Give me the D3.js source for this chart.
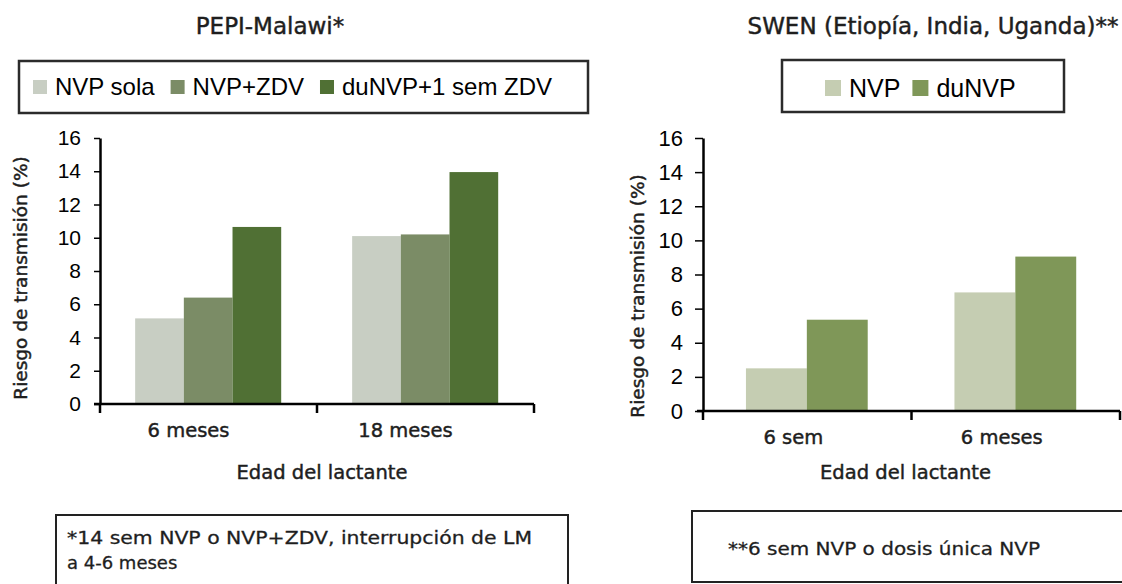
<!DOCTYPE html>
<html>
<head>
<meta charset="utf-8">
<script src="https://cdn.jsdelivr.net/npm/d3@7"></script>
<style>
  body { margin: 0; background: #fff; }
  svg { display: block; }
  .ytick text { font-family: "Liberation Sans", Arial, sans-serif; fill: #000; }
  .gothic { font-family: "DejaVu Sans", Verdana, sans-serif; fill: #1e1e1e; stroke: #1e1e1e; stroke-width: 0.45px; }
</style>
</head>
<body>
<svg id="chart" width="1122" height="584"></svg>
<script>
// ---- data ----
const yTicks = [0, 2, 4, 6, 8, 10, 12, 14, 16];

const pepiCategories = ["6 meses", "18 meses"];
const pepiSeries = ["NVP sola", "NVP+ZDV", "duNVP+1 sem ZDV"];
const pepiColors = ["#c8cec3", "#7b8c66", "#507034"];
const pepiNvpSola = [5.15, 10.1];
const pepiNvpZdv = [6.4, 10.2];
const pepiDuNvp = [10.65, 13.95];

const swenCategories = ["6 sem", "6 meses"];
const swenSeries = ["NVP", "duNVP"];
const swenColors = ["#c5cdb2", "#7f9758"];
const swenNvp = [2.5, 6.95];
const swenDuNvp = [5.35, 9.05];

const svg = d3.select("#chart");
const arial = '"Liberation Sans", Arial, sans-serif';
const gothic = '"DejaVu Sans", Verdana, sans-serif';

function drawPanel(p) {
    const g = svg.append("g");

    // title
    g.append("text")
        .attr("class", "gothic")
        .attr("x", p.titleX).attr("y", 34)
        .attr("text-anchor", "middle")
        .style("font-size", p.titleSize + "px")
        .text(p.title);

    // legend box + items
    g.append("rect")
        .attr("x", p.legend.x).attr("y", p.legend.y)
        .attr("width", p.legend.w).attr("height", p.legend.h)
        .attr("fill", "none").attr("stroke", "#2b2b2b").attr("stroke-width", 2.5);

    let lx = p.legend.itemX;
    p.series.forEach((s, i) => {
        g.append("rect")
            .attr("x", lx).attr("y", p.legend.swY)
            .attr("width", p.legend.sw).attr("height", p.legend.sw)
            .attr("fill", p.colors[i]);
        const t = g.append("text")
            .attr("x", lx + p.legend.sw + 8).attr("y", p.legend.textY)
            .style("font-family", arial)
            .style("font-size", p.legend.fontSize + "px")
            .style("fill", "#000")
            .text(s);
        lx += p.legend.sw + 8 + t.node().getComputedTextLength() + p.legend.gap;
    });

    // scales
    const x = d3.scaleBand().domain(p.categories).range([p.x0, p.x1]).padding(0);
    const xs = d3.scaleBand().domain(p.series)
        .range([x.bandwidth() * p.inner[0], x.bandwidth() * p.inner[1]]).padding(0);
    const y = d3.scaleLinear().domain([0, 16]).range([p.y0, p.y1]);

    // bars
    const groups = g.selectAll("g.grp")
        .data(p.categories)
        .join("g")
        .attr("class", "grp")
        .attr("transform", d => "translate(" + x(d) + ",0)");

    groups.selectAll("rect")
        .data((c, ci) => p.series.map((s, si) => ({ s: s, si: si, v: p.values[si][ci] })))
        .join("rect")
        .attr("x", d => xs(d.s))
        .attr("width", xs.bandwidth())
        .attr("y", d => y(d.v))
        .attr("height", d => y(0) - y(d.v))
        .attr("fill", d => p.colors[d.si]);

    // y axis
    const yAxis = g.append("g")
        .attr("class", "ytick")
        .attr("transform", "translate(" + p.x0 + ",0)")
        .call(d3.axisLeft(y).tickValues(yTicks).tickSize(p.yTick).tickSizeOuter(0).tickPadding(p.yPad));
    yAxis.select(".domain").attr("stroke", "#000").attr("stroke-width", 2.5);
    yAxis.selectAll(".tick line").attr("stroke", "#000").attr("stroke-width", 1.5);
    yAxis.selectAll(".tick text").style("font-size", p.tickSize + "px");

    // x axis (labels only, boundary ticks drawn below)
    const xAxis = g.append("g")
        .attr("transform", "translate(0," + p.y0 + ")")
        .call(d3.axisBottom(x).tickSize(0).tickPadding(19));
    xAxis.select(".domain").remove();
    xAxis.selectAll(".tick text")
        .attr("class", "gothic")
        .style("font-family", gothic)
        .style("font-size", "19.5px")
        .attr("dx", p.labelDx);

    g.append("line")
        .attr("x1", p.x0 - 6).attr("x2", p.x1)
        .attr("y1", p.y0).attr("y2", p.y0)
        .attr("stroke", "#000").attr("stroke-width", 2.5);

    const bounds = p.categories.map(c => x(c)).concat([x.range()[1]]);
    g.selectAll("line.xb")
        .data(bounds)
        .join("line")
        .attr("class", "xb")
        .attr("x1", d => d).attr("x2", d => d)
        .attr("y1", p.y0).attr("y2", p.y0 + 9)
        .attr("stroke", "#000").attr("stroke-width", 2.5);

    // axis titles
    g.append("text")
        .attr("class", "gothic")
        .attr("transform", "translate(" + p.yTitleX + "," + p.yTitleY + ") rotate(-90)")
        .attr("text-anchor", "middle")
        .style("font-size", "18.5px")
        .text("Riesgo de transmisión (%)");

    g.append("text")
        .attr("class", "gothic")
        .attr("x", (p.x0 + p.x1) / 2 + p.edadDx).attr("y", 479)
        .attr("text-anchor", "middle")
        .style("font-size", "19.5px")
        .text("Edad del lactante");

    // footnote box
    g.append("rect")
        .attr("x", p.note.x).attr("y", p.note.y)
        .attr("width", p.note.w).attr("height", p.note.h)
        .attr("fill", "none").attr("stroke", "#222").attr("stroke-width", 2);
    p.note.lines.forEach((l, i) => {
        const t = g.append("text")
            .attr("class", "gothic")
            .attr("x", p.note.textX).attr("y", p.note.textY + i * 25)
            .style("font-size", "18px")
            .style("stroke-width", "0.3px")
            .text(l);
        if (p.note.lens[i]) {
            t.attr("textLength", p.note.lens[i]).attr("lengthAdjust", "spacingAndGlyphs");
        }
    });
}

drawPanel({
    title: "PEPI-Malawi*", titleX: 270, titleSize: 23,
    categories: pepiCategories, series: pepiSeries, colors: pepiColors,
    values: [pepiNvpSola, pepiNvpZdv, pepiDuNvp],
    x0: 100, x1: 534, y0: 404, y1: 138, inner: [0.162, 0.835],
    yTick: 6, yPad: 13, tickSize: 21, labelDx: -20, edadDx: 5,
    yTitleX: 27, yTitleY: 278,
    legend: { x: 19, y: 61, w: 569, h: 52, itemX: 33, sw: 14, swY: 80, textY: 95, fontSize: 24, gap: 16 },
    note: { x: 56, y: 515, w: 512, h: 80, textX: 67, textY: 544,
            lines: ["*14 sem NVP o NVP+ZDV, interrupción de LM", "a 4-6 meses"], lens: [465, 0] }
});

drawPanel({
    title: "SWEN (Etiopía, India, Uganda)**", titleX: 933, titleSize: 23,
    categories: swenCategories, series: swenSeries, colors: swenColors,
    values: [swenNvp, swenDuNvp],
    x0: 703, x1: 1120, y0: 411, y1: 138, inner: [0.206, 0.79],
    yTick: 8, yPad: 12, tickSize: 22, labelDx: -14, edadDx: -6,
    yTitleX: 644, yTitleY: 296,
    legend: { x: 782, y: 60, w: 282, h: 52, itemX: 825, sw: 16, swY: 80, textY: 97, fontSize: 25, gap: 12 },
    note: { x: 692, y: 511, w: 440, h: 71, textX: 728, textY: 555,
            lines: ["**6 sem NVP o dosis única NVP"], lens: [312] }
});
</script>
</body>
</html>
